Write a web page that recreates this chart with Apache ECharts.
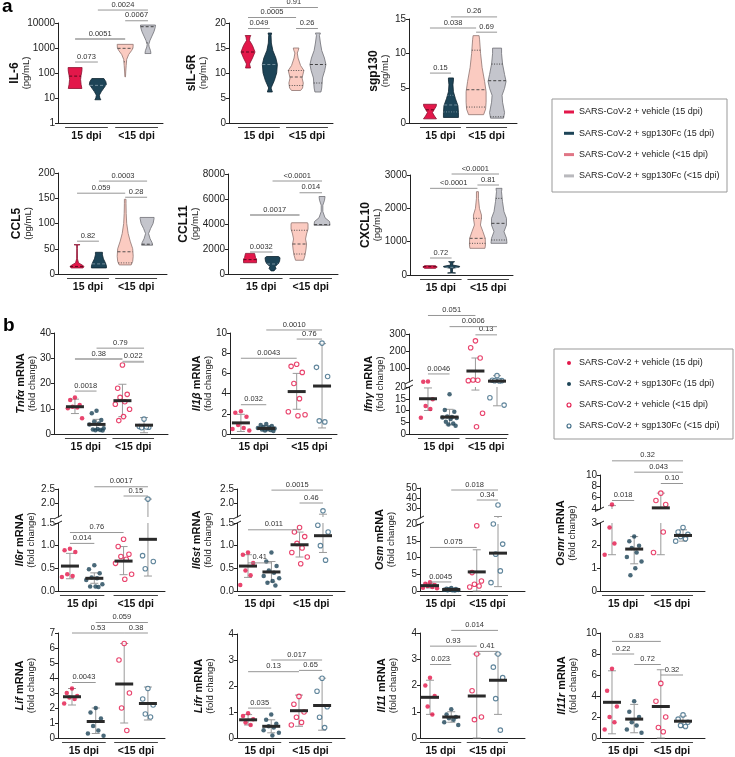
<!DOCTYPE html>
<html><head><meta charset="utf-8">
<script src="https://cdn.jsdelivr.net/npm/echarts@6.0.0/dist/echarts.min.js"></script>
<style>html,body{margin:0;padding:0;background:#fff}#c{width:735px;height:757px}</style>
</head><body><div id="c"></div>
<script>
// ================= DATA =================
const GROUP_NAMES = ['SARS-CoV-2 + vehicle (15 dpi)', 'SARS-CoV-2 + sgp130Fc (15 dpi)', 'SARS-CoV-2 + vehicle (<15 dpi)', 'SARS-CoV-2 + sgp130Fc (<15 dpi)'];
const DPI_LABELS = ['15 dpi', '<15 dpi'];

// ---- panel a: violin profiles [value, relative width], quartiles [q1, median, q3], brackets [g1, g2, y, p, thick]
const il6Profiles = [
  [[24,0.68],[35,0.6],[55,0.55],[80,0.6],[120,0.68],[165,0.7]],
  [[8.5,0.3],[10,0.2],[13,0.15],[18,0.35],[25,0.6],[35,0.85],[45,0.8],[60,0.6]],
  [[70,0.03],[120,0.06],[200,0.1],[350,0.15],[550,0.35],[800,0.65],[1000,0.78],[1400,0.8]],
  [[600,0.3],[800,0.25],[1100,0.12],[1400,0.08],[2000,0.2],[3000,0.4],[4500,0.6],[6500,0.72],[8300,0.75]]
];
const il6Quartiles = [[null,75,null],[null,32,null],[280,970,null],[1600,7100,null]];
const il6Brackets = [[0,1,275,'0.073'],[0,2,2300,'0.0051',1],[2,3,12300,'0.0067'],[1,3,33000,'0.0024']];

const sil6rProfiles = [
  [[11,0.25],[11.8,0.15],[13,0.45],[14.2,0.7],[15.5,0.45],[16.5,0.15],[17.2,0.2],[17.5,0.28]],
  [[6.2,0.25],[7,0.12],[8.5,0.45],[10,0.68],[11.7,0.75],[13,0.6],[14.5,0.3],[16,0.15],[17.5,0.12],[18,0.18]],
  [[6.5,0.45],[7,0.65],[8,0.72],[9,0.6],[10,0.72],[10.5,0.78],[11.5,0.45],[13,0.2],[14,0.12],[14.5,0.22],[15,0.28]],
  [[6.2,0.3],[7,0.38],[8,0.42],[9,0.45],[10.5,0.68],[11.7,0.8],[13,0.65],[14.5,0.38],[16,0.25],[17.5,0.15],[18,0.25]]
];
const sil6rQuartiles = [[null,14.2,null],[null,11.7,null],[7.5,9.2,10.5],[8.0,11.7,null]];
const sil6rBrackets = [[0,1,18.9,'0.049'],[0,2,21.1,'0.0005'],[2,3,18.9,'0.26'],[1,3,23.1,'0.91']];

const sgp130Profiles = [
  [[0.6,0.65],[1.0,0.45],[1.5,0.25],[2.0,0.45],[2.4,0.62],[2.7,0.65]],
  [[0.8,0.75],[1.5,0.75],[2.5,0.7],[3.5,0.45],[4.5,0.25],[5.5,0.2],[6.2,0.25],[6.5,0.25]],
  [[1.2,0.75],[2,0.95],[3,1.0],[4.5,1.0],[6,0.85],[8,0.6],[10,0.45],[12,0.35],[12.6,0.3]],
  [[0.7,0.65],[1.5,0.75],[3,0.55],[4,0.5],[5,0.75],[6,0.9],[7,0.75],[8.5,0.55],[10,0.45],[10.8,0.45]]
];
const sgp130Quartiles = [[null,1.9,null],[1.6,2.6,4.0],[2.3,4.8,10.5],[0.9,6.1,8.5]];
const sgp130Brackets = [[0,1,7.2,'0.15'],[0,2,13.7,'0.038'],[2,3,13.1,'0.69'],[1,3,15.3,'0.26']];

const ccl5Profiles = [
  [[12,0.6],[15,0.7],[18,0.5],[22,0.15],[30,0.04],[50,0.03],[57.5,0.03],[58,0.3]],
  [[12,0.75],[16,0.75],[22,0.65],[30,0.45],[38,0.35],[43,0.35]],
  [[18,0.6],[25,0.75],[35,0.8],[50,0.75],[65,0.5],[80,0.3],[100,0.15],[120,0.1],[140,0.08],[148,0.08]],
  [[57,0.55],[62,0.5],[70,0.3],[80,0.15],[90,0.35],[100,0.6],[110,0.7],[112,0.7]]
];
const ccl5Quartiles = [[null,15,null],[null,20,null],[22,44,null],[null,59,null]];
const ccl5Brackets = [[0,1,65,'0.82'],[0,2,160,'0.059'],[2,3,152,'0.28'],[1,3,184,'0.0003']];

const ccl11Profiles = [
  [[900,0.65],[1200,0.65],[1300,0.55],[1500,0.5],[1650,0.45]],
  [[250,0.15],[450,0.35],[600,0.25],[800,0.55],[1000,0.7],[1300,0.75],[1400,0.6]],
  [[1100,0.4],[1500,0.55],[2000,0.65],[2400,0.7],[2800,0.6],[3200,0.7],[3600,0.85],[4000,0.85],[4100,0.8]],
  [[3900,0.8],[4200,0.75],[4500,0.3],[5000,0.08],[5500,0.08],[5900,0.25],[6200,0.3]]
];
const ccl11Quartiles = [[null,1150,null],[null,800,null],[1600,2400,3500],[null,3950,null]];
const ccl11Brackets = [[0,1,1760,'0.0032'],[0,2,4720,'0.0017',1],[2,3,6500,'0.014'],[1,3,7440,'<0.0001']];

const cxcl10Profiles = [
  [[200,0.55],[240,0.72],[280,0.55]],
  [[60,0.4],[70,0.08],[200,0.1],[240,0.8],[260,0.8],[300,0.1],[380,0.15],[400,0.3]],
  [[800,0.75],[900,0.8],[1100,0.78],[1300,0.55],[1500,0.3],[1700,0.4],[1800,0.4],[2000,0.2],[2300,0.1],[2500,0.1]],
  [[950,0.8],[1100,0.75],[1300,0.5],[1500,0.75],[1700,0.75],[1900,0.5],[2200,0.35],[2500,0.25],[2600,0.3]]
];
const cxcl10Quartiles = [[null,250,null],[null,230,null],[950,1100,1700],[1050,1550,2300]];
const cxcl10Brackets = [[0,1,510,'0.72'],[0,2,2600,'<0.0001'],[2,3,2700,'0.81'],[1,3,3030,'<0.0001']];

// ---- panel b: points per group, stats [mean, lower SD, upper SD], brackets
const tnfaPoints = [[14.5,13.5,11.5,10.8,10.5,10.2,6.2],[9.2,8.2,5.5,4.9,4.2,3.8,2.3,2.0,1.8,1.6,1.5,1.4],[27.3,18.1,15.7,14.5,12.8,11.8,9.8,6.9,5.3],[5.9,3.0,2.7,2.5,2.8]];
const tnfaStats = [[10.8,8.1,13.8],[3.8,1.8,5.8],[13.2,6.9,19.7],[3.5,0.5,6.5]];
const tnfaBrackets = [[0,1,17,'0.0018'],[0,2,29.7,'0.38',1],[2,3,28.6,'0.022',1],[1,3,34,'0.79']];

const il1bPoints = [[2.25,2.1,1.7,0.9,0.6,0.5,0.35],[1.0,0.9,0.8,0.7,0.65,0.6,0.55,0.5,0.45,0.4,0.35,0.3],[6.9,6.7,6.1,5.0,3.5,2.2,1.9,1.8],[9.0,6.6,5.7,1.3,1.2]];
const il1bStats = [[1.1,0.25,1.95],[0.55,0.3,0.8],[4.2,2.45,6.0],[4.75,0.6,8.95]];
const il1bBrackets = [[0,1,2.9,'0.032'],[0,2,7.5,'0.0043'],[2,3,9.4,'0.76'],[1,3,10.3,'0.0010']];

const ifngPoints = [[23,22,14.8,11.9,10.6,6.9],[16.9,10.2,9.5,7.4,7.2,7.0,6.8,6.4,5.2,4.5,4.0,3.5],[260,220,160,32,30,28,8.8,3.1],[57,30,28,27,26,15.4,12.3]];
const ifngStats = [[15,10,19.6],[7.2,3.9,10.5],[84,18.7,160],[25,12,57]];
const ifngBrackets = [[0,1,67,'0.0046'],[2,3,295,'0.13'],[1,3,343,'0.0006'],[0,2,408,'0.051']];

const il6rPoints = [[0.93,0.9,0.86,0.37,0.33,0.31],[0.57,0.48,0.39,0.3,0.28,0.24,0.15,0.1,0.1,0.09],[1.14,0.98,0.81,0.76,0.7,0.61,0.37,0.26],[2.14,0.78,0.65,0.49]];
const il6rStats = [[0.55,0.27,0.83],[0.28,0.17,0.4],[0.66,0.36,0.98],[1.14,0.33,2.14]];
const il6rBrackets = [[0,1,1.05,'0.014'],[0,2,1.29,'0.76'],[2,3,2.25,'0.15'],[1,3,2.58,'0.0017']];

const il6stPoints = [[0.85,0.8,0.62,0.45,0.35,0.13],[0.85,0.65,0.55,0.45,0.4,0.33,0.28,0.22,0.18,0.12],[1.4,1.3,1.2,1.05,0.95,0.85,0.75,0.6],[1.72,1.45,1.3,1.0,0.68]];
const il6stStats = [[0.55,0.3,0.8],[0.42,0.2,0.65],[1.02,0.75,1.3],[1.22,0.85,1.6]];
const il6stBrackets = [[0,1,0.62,'0.41'],[0,2,1.35,'0.011'],[2,3,2.0,'0.46'],[1,3,2.46,'0.0015']];

const osmPoints = [[2.6,2.2,1.8,1.5,1.2,1.0,0.8],[0.9,0.7,0.6,0.5,0.4,0.35,0.3,0.25,0.2,0.15],[19.5,5.5,3.0,2.0,1.5,1.2],[33,20,14,11,6,2.5]];
const osmStats = [[1.6,0.9,2.3],[0.45,0.2,0.7],[5.7,0,12.3],[11.3,1.3,21.5]];
const osmBrackets = [[0,1,2.7,'0.0045'],[0,2,13,'0.075'],[2,3,38,'0.34'],[1,3,48,'0.018']];

const osmrPoints = [[4.8,3.8,3.4,2.8,2.1,1.6],[2.4,2.2,2.0,1.9,1.7,1.5,1.3,1.0,0.7],[6.8,5.5,4.8,3.6,2.6,1.7],[2.8,2.6,2.5,2.4,2.3,2.2]];
const osmrStats = [[3.1,1.6,4.6],[1.85,1.2,2.4],[4.2,1.6,6.8],[2.45,2.2,2.7]];
const osmrBrackets = [[0,1,5.5,'0.018'],[2,3,8.5,'0.10'],[1,3,10.5,'0.043'],[0,3,12.5,'0.32']];

const lifPoints = [[3.3,3.0,2.8,2.7,2.6,2.3],[2.0,1.7,1.3,0.8,0.5,0.3,0.15],[6.3,5.2,3.0,2.0,0.5],[3.3,2.6,2.2,1.6,1.4]];
const lifStats = [[2.75,2.2,3.3],[1.1,0.3,2.0],[3.6,1.0,6.3],[2.3,1.2,3.4]];
const lifBrackets = [[0,1,3.7,'0.0043'],[0,2,7.0,'0.53'],[2,3,7.0,'0.38'],[1,3,7.7,'0.059']];

const lifrPoints = [[0.95,0.85,0.72,0.6,0.5],[0.9,0.7,0.55,0.45,0.4,0.3,0.2,0.1],[1.6,1.3,1.0,0.8,0.6,0.5],[2.3,1.8,1.2,0.8,0.4]];
const lifrStats = [[0.7,0.5,0.9],[0.45,0.2,0.7],[1.05,0.45,1.65],[1.25,0.3,2.3]];
const lifrBrackets = [[0,1,1.15,'0.035'],[0,2,2.55,'0.13'],[2,3,2.6,'0.65'],[1,3,3.0,'0.017']];

const il11Points = [[2.3,2.0,1.6,1.2,0.9],[1.1,0.9,0.8,0.75,0.7,0.6,0.5],[3.2,1.8,0.8,0.7],[3.2,2.7,2.3,1.5,0.3]];
const il11Stats = [[1.55,0.9,2.2],[0.8,0.6,1.0],[1.6,0,3.2],[2.2,0.9,3.2]];
const il11Brackets = [[0,1,2.8,'0.023'],[0,2,3.5,'0.93'],[2,3,3.3,'0.41'],[1,3,4.1,'0.014']];

const il11rPoints = [[6.6,4.5,3.0,2.0,1.5,0.8],[3.5,2.5,2.0,1.5,1.2,0.8,0.5],[5.2,3.5,2.0,1.0,0.6],[2.2,1.8,1.5,1.2,1.1]];
const il11rStats = [[3.4,0.4,6.4],[1.8,0.5,3.2],[3.0,0,6.5],[1.6,1.0,2.1]];
const il11rBrackets = [[0,2,9.2,'0.83'],[0,1,8.0,'0.22'],[1,2,7.0,'0.72'],[2,3,6.0,'0.32']];

// ================= STYLE / LAYOUT =================
const FONT = "'Liberation Sans', Arial, Helvetica, sans-serif";
const RED = '#e3174a', NAVY = '#1d4457', RING2 = '#3a6883';
const VFILL = [RED, NAVY, '#fbcbc1', '#c4c5cc'];
const VSTROKE = ['#8a1030', '#0d2330', '#8f7470', '#6e6f75'];
const VLINE = ['#4a0716', '#7d95a3', '#444', '#333'];
const VHW = 10;
const GROUP_X = [1, 2, 3.2, 4.2];
const f1 = v => Number(v).toFixed(1);

function titleA(a, b) { return { text: '{t|' + a + '}\n{u|' + b + '}', rich: {
  t: { fontSize: 12, fontWeight: 'bold', fontFamily: FONT, lineHeight: 12, color: '#111' },
  u: { fontSize: 9.5, fontFamily: FONT, lineHeight: 11, color: '#222' } } }; }
function titleB(g) { return { text: '{i|' + g + '}{t| mRNA}\n{u|(fold change)}', rich: {
  i: { fontSize: 11, fontWeight: 'bold', fontStyle: 'italic', fontFamily: FONT, lineHeight: 12, color: '#111' },
  t: { fontSize: 11, fontWeight: 'bold', fontFamily: FONT, lineHeight: 12, color: '#111' },
  u: { fontSize: 9.5, fontFamily: FONT, lineHeight: 11, color: '#222' } } }; }

const PANELS = [
  { kind: 'v', title: titleA('IL-6', '(pg/mL)'), prof: il6Profiles, quart: il6Quartiles, br: il6Brackets, log: true,
    L: 58, R: 163, xr: [0.25, 4.86], gap: 26, segs: [{ min: 1, max: 10000, top: 23, bottom: 123, fmt: v => String(Math.round(v)) }] },
  { kind: 'v', title: titleA('sIL-6R', '(ng/mL)'), prof: sil6rProfiles, quart: sil6rQuartiles, br: sil6rBrackets,
    L: 229, R: 333, xr: [0.13, 4.89], gap: 20, segs: [{ min: 0, max: 20, top: 23, bottom: 123, interval: 5 }] },
  { kind: 'v', title: titleA('sgp130', '(ng/mL)'), prof: sgp130Profiles, quart: sgp130Quartiles, br: sgp130Brackets,
    L: 409, R: 517, xr: [0.0, 5.15], gap: 18, segs: [{ min: 0, max: 15, top: 19, bottom: 123, interval: 5 }] },
  { kind: 'v', title: titleA('CCL5', '(pg/mL)'), prof: ccl5Profiles, quart: ccl5Quartiles, br: ccl5Brackets,
    L: 58, R: 167, xr: [0.13, 5.11], gap: 24, segs: [{ min: 0, max: 200, top: 173, bottom: 274, interval: 50 }] },
  { kind: 'v', title: titleA('CCL11', '(pg/mL)'), prof: ccl11Profiles, quart: ccl11Quartiles, br: ccl11Brackets,
    L: 228, R: 338, xr: [0.02, 4.91], gap: 27, segs: [{ min: 0, max: 8000, top: 174, bottom: 274, interval: 2000 }] },
  { kind: 'v', title: titleA('CXCL10', '(pg/mL)'), prof: cxcl10Profiles, quart: cxcl10Quartiles, br: cxcl10Brackets,
    L: 410, R: 513, xr: [0.07, 4.85], gap: 27, segs: [{ min: 0, max: 3000, top: 175, bottom: 275, interval: 1000 }] },

  { kind: 'd', title: titleB('Tnfα'), pts: tnfaPoints, st: tnfaStats, br: tnfaBrackets,
    L: 54, R: 168, xr: [0.03, 5.31], gap: 16, segs: [{ min: 0, max: 40, top: 333, bottom: 434, interval: 10 }] },
  { kind: 'd', title: titleB('Il1β'), pts: il1bPoints, st: il1bStats, br: il1bBrackets,
    L: 230, R: 337, xr: [0.57, 4.79], gap: 16, segs: [{ min: 0, max: 10, top: 333, bottom: 434, interval: 2 }] },
  { kind: 'd', title: titleB('Ifnγ'), pts: ifngPoints, st: ifngStats, br: ifngBrackets,
    L: 409, R: 508, xr: [0.12, 4.71], gap: 23, segs: [{ min: 0, max: 20, top: 387, bottom: 434, interval: 5 },
      { min: 20, max: 300, top: 334, bottom: 382, custom: [100, 200, 300] }] },
  { kind: 'd', title: titleB('Il6r'), pts: il6rPoints, st: il6rStats, br: il6rBrackets,
    L: 58, R: 165, xr: [0.51, 4.9], gap: 21, segs: [{ min: 0, max: 1.5, top: 523, bottom: 591, interval: 0.5, fmt: f1 },
      { min: 1.5, max: 2.5, top: 489, bottom: 517, custom: [2, 2.5], fmt: f1 }] },
  { kind: 'd', title: titleB('Il6st'), pts: il6stPoints, st: il6stStats, br: il6stBrackets,
    L: 237, R: 345, xr: [0.53, 5.14], gap: 23, segs: [{ min: 0, max: 1.5, top: 523, bottom: 591, interval: 0.5, fmt: f1 },
      { min: 1.5, max: 2.5, top: 489, bottom: 517, custom: [2, 2.5], fmt: f1 }] },
  { kind: 'd', title: titleB('Osm'), pts: osmPoints, st: osmStats, br: osmBrackets,
    L: 420, R: 525, xr: [0.53, 5.47], gap: 23, segs: [{ min: 0, max: 20, top: 524, bottom: 591, interval: 5 },
      { min: 20, max: 50, top: 488, bottom: 518, custom: [30, 40, 50] }] },
  { kind: 'd', title: titleB('Osmr'), pts: osmrPoints, st: osmrStats, br: osmrBrackets,
    L: 600, R: 705, xr: [0.46, 5.19], gap: 22, segs: [{ min: 0, max: 3, top: 523, bottom: 591, interval: 1 },
      { min: 4, max: 10, top: 475, bottom: 509, custom: [4, 6, 8, 10] }] },
  { kind: 'd', title: titleB('Lif'), pts: lifPoints, st: lifStats, br: lifBrackets,
    L: 58, R: 165, xr: [0.41, 4.92], gap: 21, segs: [{ min: 0, max: 7, top: 633, bottom: 738, interval: 1 }] },
  { kind: 'd', title: titleB('Lifr'), pts: lifrPoints, st: lifrStats, br: lifrBrackets,
    L: 237, R: 345, xr: [0.52, 5.19], gap: 21, segs: [{ min: 0, max: 4, top: 634, bottom: 738, interval: 1 }] },
  { kind: 'd', title: titleB('Il11'), pts: il11Points, st: il11Stats, br: il11Brackets,
    L: 420, R: 525, xr: [0.53, 5.47], gap: 21, segs: [{ min: 0, max: 4, top: 633, bottom: 738, interval: 1 }] },
  { kind: 'd', title: titleB('Il11r'), pts: il11rPoints, st: il11rStats, br: il11rBrackets,
    L: 600, R: 705, xr: [0.46, 5.19], gap: 21, segs: [{ min: 0, max: 10, top: 633, bottom: 738, interval: 2 }] }
];

const JITTER = [0, -0.22, 0.22, -0.11, 0.11, -0.33, 0.33, 0.05, -0.17, 0.17, -0.05, 0.28];
const POINT_STYLE = [
  { color: RED }, { color: NAVY },
  { color: '#fff', borderColor: RED, borderWidth: 1.1 },
  { color: '#fff', borderColor: RING2, borderWidth: 1.1 }
];

// ================= BUILD =================
const grid = [], xAxis = [], yAxis = [], series = [];

function txt(o) {
  return Object.assign({ fontFamily: FONT, fill: '#333' }, o,
    { textAlign: o.align, textVerticalAlign: o.verticalAlign });
}
function widthAt(pts, y) {
  for (let i = 0; i < pts.length - 1; i++) {
    const a = pts[i], b = pts[i + 1];
    if ((y <= a[1] && y >= b[1]) || (y >= a[1] && y <= b[1])) {
      const t = a[1] === b[1] ? 0 : (y - a[1]) / (b[1] - a[1]);
      return a[2] + (b[2] - a[2]) * t;
    }
  }
  return 0;
}

PANELS.forEach(p => {
  const top = Math.min(...p.segs.map(s => s.top)), bot = Math.max(...p.segs.map(s => s.bottom));
  const W = p.R - p.L;
  let k = grid.length;
  grid.push({ left: p.L, top: top, width: W, height: bot - top });
  xAxis.push({ gridIndex: k, type: 'value', show: false, min: 0, max: 1 });
  yAxis.push({ gridIndex: k, type: 'value', min: 0, max: 1, axisLine: { show: false }, axisTick: { show: false },
    axisLabel: { show: false }, splitLine: { show: false }, name: p.title.text, nameLocation: 'middle',
    nameRotate: 90, nameGap: p.gap, nameTextStyle: { rich: p.title.rich, fontFamily: FONT } });

  const last = p.segs.length - 1;
  p.segs.forEach((s, si) => {
    k = grid.length; s.k = k;
    grid.push({ left: p.L, top: s.top, width: W, height: s.bottom - s.top });
    xAxis.push({ gridIndex: k, type: 'value', min: p.xr[0], max: p.xr[1], show: si === 0,
      axisLine: { show: true, onZero: false, lineStyle: { color: '#222', width: 1 } },
      axisTick: { show: false }, axisLabel: { show: false }, splitLine: { show: false } });
    const ya = { gridIndex: k, type: p.log ? 'log' : 'value', min: s.min, max: s.max,
      axisLine: { show: true, onZero: false, lineStyle: { color: '#222', width: 1 } },
      axisTick: { show: true, length: 3, lineStyle: { color: '#222' } },
      axisLabel: { fontSize: 10, color: '#222', fontFamily: FONT, margin: 3, formatter: s.fmt || (v => String(v)) },
      splitLine: { show: false } };
    if (p.log) ya.logBase = 10;
    if (s.interval) ya.interval = s.interval;
    if (s.custom) { ya.axisLabel.customValues = s.custom; ya.axisTick.customValues = s.custom; }
    yAxis.push(ya);

    const brk = [];
    if (si < last) brk.push(s.max);
    if (si > 0) brk.push(s.min);
    if (brk.length) series.push({ type: 'custom', xAxisIndex: k, yAxisIndex: k, clip: false, silent: true, z: 6,
      data: brk.map(v => [p.xr[0], v]),
      renderItem: (params, api) => {
        const c = api.coord([p.xr[0], brk[params.dataIndex]]);
        return { type: 'line', shape: { x1: c[0] - 4, y1: c[1] + 2, x2: c[0] + 4, y2: c[1] - 2 },
          style: { stroke: '#222', lineWidth: 1 } };
      } });
  });

  const s0 = p.segs[0];
  series.push({ type: 'custom', xAxisIndex: s0.k, yAxisIndex: s0.k, clip: false, silent: true,
    data: DPI_LABELS.map((t, i) => [GROUP_X[2 * i], s0.min]),
    renderItem: (params, api) => {
      const i = params.dataIndex;
      const a = api.coord([GROUP_X[2 * i], s0.min]), b = api.coord([GROUP_X[2 * i + 1], s0.min]);
      return { type: 'group', children: [
        { type: 'line', shape: { x1: a[0] - 10, y1: a[1] + 4.5, x2: b[0] + 10, y2: a[1] + 4.5 }, style: { stroke: '#444', lineWidth: 1 } },
        { type: 'text', style: txt({ text: DPI_LABELS[i], x: (a[0] + b[0]) / 2, y: a[1] + 7.5, align: 'center', verticalAlign: 'top',
          fontSize: 10.5, fontWeight: 'bold', fill: '#111' }) }
      ] };
    } });

  p.segs.forEach((s, si) => {
    const list = p.br.filter(b => {
      let idx = p.segs.findIndex(q => b[2] <= q.max);
      if (idx < 0) idx = last;
      return idx === si;
    });
    if (!list.length) return;
    series.push({ type: 'custom', xAxisIndex: s.k, yAxisIndex: s.k, clip: false, silent: true, z: 4,
      data: list.map(b => [GROUP_X[b[0]], b[2]]),
      renderItem: (params, api) => {
        const b = list[params.dataIndex];
        const c1 = api.coord([GROUP_X[b[0]], b[2]]), c2 = api.coord([GROUP_X[b[1]], b[2]]);
        return { type: 'group', children: [
          { type: 'line', shape: { x1: c1[0], y1: c1[1], x2: c2[0], y2: c2[1] },
            style: { stroke: b[4] ? '#b4b4b4' : '#8a8a8a', lineWidth: b[4] ? 2 : 0.9 } },
          { type: 'text', style: txt({ text: b[3], x: (c1[0] + c2[0]) / 2, y: c1[1] - 1.5, align: 'center', verticalAlign: 'bottom', fontSize: 7.5 }) }
        ] };
      } });
  });

  if (p.kind === 'v') {
    series.push({ type: 'custom', xAxisIndex: s0.k, yAxisIndex: s0.k, clip: false, silent: true, z: 3,
      data: p.prof.map((_, g) => [GROUP_X[g], p.quart[g][1]]),
      renderItem: (params, api) => {
        const g = params.dataIndex, x = GROUP_X[g];
        const pts = p.prof[g].map(([v, w]) => { const c = api.coord([x, v]); return [c[0], c[1], w * VHW]; });
        const poly = pts.map(q => [q[0] - q[2], q[1]]).concat(pts.slice().reverse().map(q => [q[0] + q[2], q[1]]));
        const ch = [{ type: 'polygon', shape: { points: poly }, style: { fill: VFILL[g], stroke: VSTROKE[g], lineWidth: 0.8 } }];
        p.quart[g].forEach((v, qi) => {
          if (v == null) return;
          const c = api.coord([x, v]);
          const w = widthAt(pts, c[1]);
          ch.push({ type: 'line', shape: { x1: c[0] - w, y1: c[1], x2: c[0] + w, y2: c[1] },
            style: { stroke: VLINE[g], lineWidth: 0.9, lineDash: qi === 1 ? [3, 2] : [1, 1.5] } });
        });
        return { type: 'group', children: ch };
      } });
  } else {
    p.segs.forEach((s, si) => {
      const inSeg = v => (si === 0 ? v >= s.min : v > s.min) && (si === last ? true : v <= s.max);
      series.push({ type: 'custom', xAxisIndex: s.k, yAxisIndex: s.k, clip: false, silent: true, z: 2,
        data: p.st.map((st, g) => [GROUP_X[g], st[0]]),
        renderItem: (params, api) => {
          const g = params.dataIndex, x = GROUP_X[g], [m, lo, hi] = p.st[g];
          const a = Math.max(lo, s.min), b = Math.min(hi, s.max);
          const ch = [];
          if (a < b) {
            const ca = api.coord([x, a]), cb = api.coord([x, b]);
            ch.push({ type: 'line', shape: { x1: ca[0], y1: ca[1], x2: cb[0], y2: cb[1] }, style: { stroke: '#9a9a9a', lineWidth: 1 } });
          }
          [lo, hi].forEach(v => {
            if (v >= s.min && v <= s.max) {
              const c = api.coord([x, v]);
              ch.push({ type: 'line', shape: { x1: c[0] - 4, y1: c[1], x2: c[0] + 4, y2: c[1] }, style: { stroke: '#9a9a9a', lineWidth: 1 } });
            }
          });
          return { type: 'group', children: ch };
        } });
      p.pts.forEach((arr, g) => {
        const d = [];
        arr.forEach((v, i) => { if (inSeg(v)) d.push([GROUP_X[g] + JITTER[i % JITTER.length], v]); });
        if (!d.length) return;
        series.push({ type: 'scatter', xAxisIndex: s.k, yAxisIndex: s.k, silent: true, z: 3, symbol: 'circle',
          symbolSize: 4.5, itemStyle: POINT_STYLE[g], data: d });
      });
      series.push({ type: 'custom', xAxisIndex: s.k, yAxisIndex: s.k, clip: false, silent: true, z: 5,
        data: p.st.map((st, g) => [GROUP_X[g], st[0]]),
        renderItem: (params, api) => {
          const g = params.dataIndex, m = p.st[g][0];
          if (!inSeg(m)) return { type: 'group', children: [] };
          const c = api.coord([GROUP_X[g], m]);
          return { type: 'rect', shape: { x: c[0] - 9, y: c[1] - 1.5, width: 18, height: 3 }, style: { fill: '#2a2a2a' } };
        } });
    });
  }
});

const graphic = [
  { type: 'text', x: 2, y: 7, style: { text: 'a', font: 'bold 19px ' + FONT, fill: '#000', verticalAlign: 'middle', textVerticalAlign: 'middle' } },
  { type: 'text', x: 3, y: 326, style: { text: 'b', font: 'bold 19px ' + FONT, fill: '#000', verticalAlign: 'middle', textVerticalAlign: 'middle' } },
  { type: 'rect', shape: { x: 552, y: 99, width: 175, height: 93 }, style: { fill: '#fff', stroke: '#999', lineWidth: 1 } },
  { type: 'rect', shape: { x: 554, y: 349, width: 179, height: 90 }, style: { fill: '#fff', stroke: '#999', lineWidth: 1 } }
];
const SWATCH = [RED, NAVY, '#e07585', '#b9b9bd'];
GROUP_NAMES.forEach((n, i) => {
  const ya = 112 + i * 21.3, yb = 363 + i * 21;
  graphic.push({ type: 'rect', shape: { x: 564, y: ya - 1.5, width: 10, height: 3 }, style: { fill: SWATCH[i] } });
  graphic.push({ type: 'text', x: 579, y: ya, style: { text: n, font: '9px ' + FONT, fill: '#222', verticalAlign: 'middle', textVerticalAlign: 'middle' } });
  const ps = POINT_STYLE[i];
  graphic.push({ type: 'circle', shape: { cx: 569, cy: yb, r: 2 }, style: { fill: ps.color, stroke: ps.borderColor || null, lineWidth: ps.borderWidth || 0 } });
  graphic.push({ type: 'text', x: 579, y: yb, style: { text: n, font: '9px ' + FONT, fill: '#222', verticalAlign: 'middle', textVerticalAlign: 'middle' } });
});

const chart = echarts.init(document.getElementById('c'), null, { renderer: 'canvas' });
chart.setOption({ animation: false, backgroundColor: '#fff', textStyle: { fontFamily: FONT },
  grid, xAxis, yAxis, series, graphic });
</script>
</body></html>
